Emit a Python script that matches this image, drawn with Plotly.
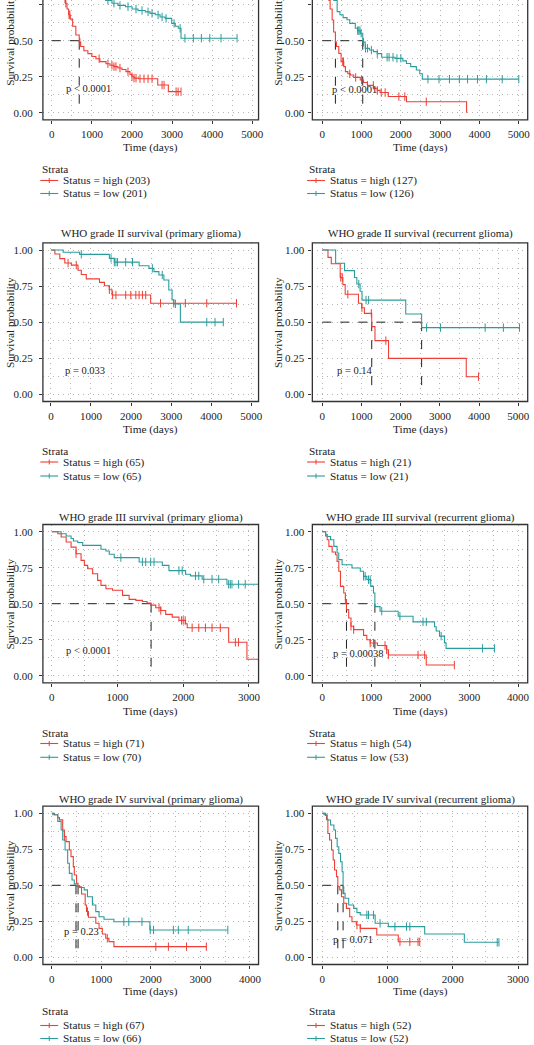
import plotly.graph_objects as go

W, H = 534, 1045
RED = "#EE3E36"
TEAL = "#2B9C9C"
FONT = "Liberation Serif"
INK = "#222222"
GRID = "#b4b4b4"
GDASH = "1px,4px"

# ---------------- data ----------------
titles = ["", "",
          "WHO grade II survival (primary glioma)", "WHO grade II survival (recurrent glioma)",
          "WHO grade III survival (primary glioma)", "WHO grade III survival (recurrent glioma)",
          "WHO grade IV survival (primary glioma)", "WHO grade IV survival (recurrent glioma)"]
pvals = ["p < 0.0001", "p < 0.0001", "p = 0.033", "p = 0.14",
         "p < 0.0001", "p = 0.00038", "p = 0.23", "p = 0.071"]
pval_t = [314, 194, 304, 314, 192, 170, 208, 127]
pval_s = [0.17, 0.158, 0.168, 0.164, 0.178, 0.151, 0.178, 0.127]
n_high = [203, 127, 65, 21, 71, 54, 67, 52]
n_low = [201, 126, 65, 21, 70, 53, 66, 52]
x_ticks_max = [5000, 5000, 5000, 5000, 3000, 4000, 4000, 3000]

# panel 1
p1_high_t = [0, 60, 120, 180, 240, 300, 340, 380, 420, 460, 520, 600, 684, 720, 800, 900, 1000, 1100, 1200, 1350, 1450, 1550, 1650, 1750, 1850, 1950, 2000, 2050, 2164, 2642, 2906]
p1_high_s = [1, 0.975, 0.94, 0.89, 0.84, 0.79, 0.76, 0.72, 0.68, 0.65, 0.6, 0.54, 0.49, 0.46, 0.43, 0.41, 0.39, 0.375, 0.355, 0.34, 0.33, 0.32, 0.31, 0.3, 0.285, 0.265, 0.25, 0.24, 0.236, 0.192, 0.146]
p1_high_c = [330, 350, 430, 450, 700, 1180, 1400, 1500, 1550, 1600, 1700, 1900, 2000, 2050, 2100, 2200, 2300, 2400, 2500, 2750, 2800, 3100, 3150, 3222]
p1_low_t = [0, 100, 250, 400, 600, 800, 1000, 1200, 1343, 1500, 1650, 1837, 2001, 2150, 2332, 2450, 2580, 2700, 2826, 2990, 3080, 3155, 3222]
p1_low_s = [1, 0.985, 0.965, 0.94, 0.91, 0.87, 0.835, 0.8, 0.78, 0.76, 0.745, 0.736, 0.72, 0.71, 0.70, 0.69, 0.68, 0.665, 0.655, 0.62, 0.60, 0.586, 0.517]
p1_low_c = [1400, 1550, 1700, 1900, 2100, 2250, 2400, 2500, 2650, 2750, 2850, 3050, 3200, 3320, 3530, 3730, 3940, 4220, 4620]
p1_medians = [684]

# panel 2
p2_high_t = [0, 40, 80, 120, 169, 200, 252, 290, 335, 360, 421, 479, 547, 589, 650, 715, 800, 967, 1050, 1150, 1303, 1400, 1471, 1680, 2142, 3672]
p2_high_s = [1, 0.96, 0.91, 0.85, 0.78, 0.72, 0.644, 0.56, 0.49, 0.46, 0.412, 0.354, 0.32, 0.285, 0.27, 0.262, 0.245, 0.227, 0.21, 0.19, 0.17, 0.155, 0.14, 0.112, 0.076, 0.0]
p2_high_c = [520, 540, 700, 850, 1000, 1150, 1300, 1400, 1500, 1600, 1950, 2100, 2646]
p2_low_t = [0, 50, 100, 150, 200, 250, 295, 379, 450, 530, 630, 700, 841, 900, 967, 1030, 1093, 1200, 1303, 1400, 1512, 1850, 2050, 2142, 2250, 2394, 2480, 2545]
p2_low_s = [1, 0.97, 0.94, 0.9, 0.86, 0.82, 0.78, 0.702, 0.68, 0.66, 0.645, 0.62, 0.586, 0.57, 0.552, 0.49, 0.447, 0.435, 0.424, 0.41, 0.385, 0.377, 0.36, 0.342, 0.32, 0.296, 0.27, 0.233]
p2_low_c = [900, 930, 960, 990, 1050, 1100, 1150, 1250, 1400, 1650, 1700, 1800, 1900, 2000, 2689, 2970, 3236, 3488, 3697, 3949, 4176, 4579, 5000]
p2_medians = [335, 1030]

# panel 3
p3_high_t = [0, 99, 222, 346, 511, 675, 758, 882, 1212, 1335, 1458, 1524, 2488]
p3_high_s = [1, 0.972, 0.94, 0.91, 0.895, 0.86, 0.83, 0.80, 0.776, 0.752, 0.725, 0.688, 0.631]
p3_high_c = [428, 632, 1458, 1540, 1622, 1865, 1993, 2118, 2200, 2283, 2365, 2735, 3065, 3353, 3888, 4630]
p3_low_t = [0, 304, 717, 1458, 1582, 2200, 2447, 2570, 2694, 2818, 2941, 3023, 3065, 3230]
p3_low_s = [1, 0.984, 0.97, 0.942, 0.916, 0.891, 0.873, 0.85, 0.827, 0.792, 0.723, 0.654, 0.627, 0.5]
p3_low_c = [758, 1500, 1582, 1622, 1663, 1865, 2035, 2530, 2777, 3106, 3888, 4094, 4300]
p3_medians = []

# panel 4
p4_high_t = [0, 144, 228, 456, 524, 583, 922, 1004, 1073, 1260, 1343, 1689, 3672]
p4_high_s = [1, 0.949, 0.905, 0.81, 0.76, 0.693, 0.631, 0.60, 0.561, 0.469, 0.372, 0.249, 0.122]
p4_high_c = [470, 510, 650, 1010, 1250, 1620, 3986]
p4_low_t = [0, 339, 567, 820, 880, 963, 1013, 2128, 2533]
p4_low_s = [1, 0.908, 0.857, 0.81, 0.764, 0.714, 0.653, 0.556, 0.462]
p4_low_c = [930, 1115, 1182, 2660, 3014, 4154, 4619, 5030]
p4_medians = [1260, 2533]

# panel 5
p5_high_t = [0, 91, 142, 218, 293, 369, 445, 495, 545, 621, 697, 748, 824, 924, 1076, 1177, 1279, 1379, 1450, 1511, 1582, 1658, 1733, 1833, 1935, 2036, 2061, 2692, 2970]
p5_high_s = [1, 0.986, 0.963, 0.928, 0.893, 0.847, 0.801, 0.766, 0.743, 0.708, 0.662, 0.627, 0.604, 0.593, 0.558, 0.53, 0.523, 0.515, 0.505, 0.49, 0.472, 0.453, 0.426, 0.407, 0.384, 0.361, 0.333, 0.232, 0.114]
p5_high_c = [369, 1632, 1658, 1975, 2000, 2030, 2136, 2237, 2338, 2439, 2565, 2794, 2843, 3160]
p5_low_t = [0, 142, 218, 293, 329, 394, 470, 748, 823, 874, 950, 1329, 1682, 1783, 2036, 2112, 2288, 2666]
p5_low_s = [1, 0.986, 0.97, 0.953, 0.935, 0.925, 0.905, 0.878, 0.866, 0.843, 0.82, 0.79, 0.766, 0.73, 0.704, 0.693, 0.67, 0.635]
p5_low_c = [1051, 1379, 1429, 1505, 1556, 1935, 1985, 2187, 2237, 2313, 2439, 2540, 2692, 2717, 2742, 2843, 2944, 3160]
p5_medians = [1511]

# panel 6
p6_high_t = [0, 69, 101, 136, 202, 271, 303, 338, 372, 439, 473, 495, 540, 587, 641, 844, 910, 979, 1127, 1315, 1350, 2124]
p6_high_s = [1, 0.97, 0.944, 0.898, 0.859, 0.84, 0.794, 0.725, 0.62, 0.574, 0.528, 0.459, 0.401, 0.343, 0.32, 0.28, 0.25, 0.227, 0.21, 0.18, 0.144, 0.074]
p6_high_c = [473, 587, 641, 979, 1046, 1282, 1315, 1350, 1956, 2091, 2698]
p6_low_t = [0, 69, 101, 170, 237, 303, 337, 405, 607, 777, 844, 911, 991, 1046, 1075, 1181, 1551, 1855, 2294, 2327, 2395, 2496, 2529]
p6_low_s = [1, 0.98, 0.967, 0.944, 0.898, 0.852, 0.806, 0.771, 0.748, 0.725, 0.69, 0.667, 0.62, 0.574, 0.48, 0.448, 0.413, 0.374, 0.34, 0.31, 0.275, 0.228, 0.19]
p6_low_c = [844, 877, 945, 979, 1215, 1586, 2058, 2125, 2428, 3271, 3520]
p6_medians = [495, 1075]

# panel 7
p7_high_t = [0, 54, 120, 154, 220, 254, 288, 354, 388, 434, 454, 500, 530, 600, 674, 700, 740, 888, 954, 1020, 1088, 1154, 1254]
p7_high_s = [1, 0.99, 0.97, 0.954, 0.884, 0.838, 0.803, 0.745, 0.699, 0.63, 0.572, 0.514, 0.49, 0.44, 0.363, 0.318, 0.278, 0.236, 0.201, 0.162, 0.132, 0.109, 0.074]
p7_high_c = [254, 720, 1121, 2100, 2354, 2720, 3120]
p7_low_t = [0, 20, 120, 188, 220, 268, 320, 354, 408, 454, 488, 560, 654, 720, 820, 888, 954, 1054, 1254, 1980]
p7_low_s = [1, 0.99, 0.944, 0.884, 0.815, 0.745, 0.653, 0.583, 0.537, 0.51, 0.498, 0.485, 0.468, 0.421, 0.363, 0.317, 0.282, 0.264, 0.247, 0.19]
p7_low_c = [1454, 1554, 1820, 1987, 2054, 2454, 2554, 2754, 3554]
p7_medians = [488, 530]

# panel 8
p8_high_t = [0, 51, 66, 86, 112, 142, 167, 188, 218, 238, 268, 294, 329, 370, 420, 455, 522, 582, 835, 1164]
p8_high_s = [1, 0.985, 0.958, 0.86, 0.815, 0.745, 0.676, 0.606, 0.56, 0.49, 0.468, 0.421, 0.375, 0.34, 0.282, 0.247, 0.224, 0.201, 0.155, 0.108]
p8_high_c = [531, 582, 1190, 1341, 1467, 1493]
p8_low_t = [0, 26, 76, 127, 178, 203, 228, 253, 279, 304, 319, 329, 349, 405, 481, 531, 582, 810, 1012, 1569, 2176]
p8_low_s = [1, 0.99, 0.953, 0.919, 0.884, 0.826, 0.768, 0.722, 0.664, 0.594, 0.49, 0.444, 0.41, 0.363, 0.34, 0.31, 0.294, 0.236, 0.213, 0.162, 0.104]
p8_low_c = [683, 708, 784, 885, 1113, 1290, 1341, 2680, 2706]
p8_medians = [238, 319]

panels = [
    (p1_high_t, p1_high_s, p1_high_c, p1_low_t, p1_low_s, p1_low_c, p1_medians),
    (p2_high_t, p2_high_s, p2_high_c, p2_low_t, p2_low_s, p2_low_c, p2_medians),
    (p3_high_t, p3_high_s, p3_high_c, p3_low_t, p3_low_s, p3_low_c, p3_medians),
    (p4_high_t, p4_high_s, p4_high_c, p4_low_t, p4_low_s, p4_low_c, p4_medians),
    (p5_high_t, p5_high_s, p5_high_c, p5_low_t, p5_low_s, p5_low_c, p5_medians),
    (p6_high_t, p6_high_s, p6_high_c, p6_low_t, p6_low_s, p6_low_c, p6_medians),
    (p7_high_t, p7_high_s, p7_high_c, p7_low_t, p7_low_s, p7_low_c, p7_medians),
    (p8_high_t, p8_high_s, p8_high_c, p8_low_t, p8_low_s, p8_low_c, p8_medians),
]

# ---------------- layout geometry (pixels) ----------------
col_l = [43.3, 315.3]
col_r = [261.0, 532.7]
row_top = [0.0, 242.8, 524.5, 806.1]
row_frame_top = [-40.0, 242.8, 524.5, 806.1]
row_bot = [119.9, 401.5, 682.9, 964.5]
y_ranges = [[-0.05, 0.7826], [-0.05, 1.05], [-0.05, 1.05], [-0.05, 1.05]]
x_ranges = [(-222, 5156), (-252, 5227), (-200, 5180), (-255, 5240),
            (-136, 3147), (-202, 4196), (-180, 4174), (-152, 3147)]
title_y = [None, 234, 517, 799]
xlab_y = [147, 429.3, 711, 991.7]
strata_y = [169, 450.7, 732.7, 1010.7]
high_y = [180.5, 462, 743.5, 1025.5]
low_y = [193.5, 476, 757.3, 1038.5]
ylab_x = [10, 280.5]
leg_x = [40.7, 310]

F_TICK, F_TITLE, F_AXT, F_LEG, F_P = 11, 11, 11.3, 11.3, 10.5


def px(x):
    return x / W


def py(y):
    return 1 - y / H


def step_at(ts, ss, c):
    v = ss[0]
    for t, s in zip(ts, ss):
        if t <= c:
            v = s
    return v


fig = go.Figure()
annotations = []
shapes = []

for i, (ht, hs, hc, lt, ls, lc, meds) in enumerate(panels):
    r, c = divmod(i, 2)
    k = "" if i == 0 else str(i + 1)
    xref, yref = "x" + k, "y" + k

    # median dashed lines
    if meds:
        fig.add_trace(go.Scatter(x=[0, max(meds)], y=[0.5, 0.5], mode="lines",
                                 line=dict(color="#222", width=1, dash="dash"),
                                 xaxis=xref, yaxis=yref, showlegend=False, hoverinfo="skip"))
        for m in meds:
            fig.add_trace(go.Scatter(x=[m, m], y=[0.5, 0], mode="lines",
                                     line=dict(color="#222", width=1, dash="dash"),
                                     xaxis=xref, yaxis=yref, showlegend=False, hoverinfo="skip"))

    for ts, ss, cs, col in ((ht, hs, hc, RED), (lt, ls, lc, TEAL)):
        end = max([ts[-1]] + cs)
        fig.add_trace(go.Scatter(x=ts + [end], y=ss + [ss[-1]], mode="lines",
                                 line=dict(color=col, width=1.1, shape="hv"),
                                 xaxis=xref, yaxis=yref, showlegend=False))
        fig.add_trace(go.Scatter(x=cs, y=[step_at(ts, ss, cc) for cc in cs], mode="markers",
                                 marker=dict(symbol="line-ns", size=6,
                                             line=dict(color=col, width=1)),
                                 xaxis=xref, yaxis=yref, showlegend=False))

    # axes
    fig.layout["xaxis" + k] = dict(
        domain=[px(col_l[c]), px(col_r[c])], range=list(x_ranges[i]),
        anchor=yref, tickmode="array",
        tickvals=list(range(0, x_ticks_max[i] + 1, 1000)),
        ticks="outside", ticklen=3, tickwidth=1, tickcolor="#333",
        showline=False, zeroline=False, showgrid=True,
        gridcolor=GRID, griddash=GDASH, gridwidth=1,
        minor=dict(tickvals=list(range(500, int(x_ranges[i][1]), 1000)),
                   showgrid=True, gridcolor=GRID, griddash=GDASH, gridwidth=1, ticks=""),
        tickfont=dict(family=FONT, size=F_TICK, color=INK), ticklabelstandoff=1,
    )
    fig.layout["yaxis" + k] = dict(
        domain=[py(row_bot[r]), py(row_top[r])], range=y_ranges[r],
        anchor=xref, tickvals=[0, 0.25, 0.5, 0.75, 1.0], tickformat=".2f",
        ticks="outside", ticklen=3, tickwidth=1, tickcolor="#333",
        showline=False, zeroline=False, showgrid=True,
        gridcolor=GRID, griddash=GDASH, gridwidth=1,
        minor=dict(tickvals=[0.125, 0.375, 0.625, 0.875], showgrid=True,
                   gridcolor=GRID, griddash=GDASH, gridwidth=1, ticks=""),
        tickfont=dict(family=FONT, size=F_TICK, color=INK),
        ticklabelstandoff=(4 if c == 0 else 2),
    )

    # frame
    shapes.append(dict(type="rect", xref="paper", yref="paper",
                       x0=px(col_l[c]), x1=px(col_r[c]),
                       y0=py(row_bot[r]), y1=py(row_frame_top[r]),
                       line=dict(color="#333", width=1.3), fillcolor="rgba(0,0,0,0)"))

    # p-value
    annotations.append(dict(x=pval_t[i], y=pval_s[i], xref=xref, yref=yref, text=pvals[i],
                            showarrow=False, xanchor="left", yanchor="middle",
                            font=dict(family=FONT, size=F_P, color=INK)))

    xc = px((col_l[c] + col_r[c]) / 2)
    if titles[i] and title_y[r] is not None:
        annotations.append(dict(x=xc, y=py(title_y[r]), xref="paper", yref="paper",
                                text=titles[i], showarrow=False, xanchor="center", yanchor="middle",
                                font=dict(family=FONT, size=F_TITLE, color=INK)))
    annotations.append(dict(x=xc, y=py(xlab_y[r]), xref="paper", yref="paper", text="Time (days)",
                            showarrow=False, xanchor="center", yanchor="middle",
                            font=dict(family=FONT, size=F_AXT, color=INK)))
    annotations.append(dict(x=px(ylab_x[c]), y=py((row_frame_top[r] + row_bot[r]) / 2),
                            xref="paper", yref="paper", text="Survival probability",
                            textangle=-90, showarrow=False, xanchor="center", yanchor="middle",
                            font=dict(family=FONT, size=F_AXT, color=INK)))

    # legend (drawn)
    lx = leg_x[c]
    annotations.append(dict(x=px(lx), y=py(strata_y[r]), xref="paper", yref="paper", text="Strata",
                            showarrow=False, xanchor="left", yanchor="middle",
                            font=dict(family=FONT, size=F_LEG, color=INK)))
    for yy, col, lab in ((high_y[r], RED, "Status = high (%d)" % n_high[i]),
                         (low_y[r], TEAL, "Status = low (%d)" % n_low[i])):
        shapes.append(dict(type="line", xref="paper", yref="paper", x0=px(lx), x1=px(lx + 18),
                           y0=py(yy), y1=py(yy), line=dict(color=col, width=1.1)))
        shapes.append(dict(type="line", xref="paper", yref="paper", x0=px(lx + 9), x1=px(lx + 9),
                           y0=py(yy - 2.5), y1=py(yy + 2.5), line=dict(color=col, width=1)))
        annotations.append(dict(x=px(lx + 21), y=py(yy), xref="paper", yref="paper", text=lab,
                                showarrow=False, xanchor="left", yanchor="middle",
                                font=dict(family=FONT, size=F_LEG, color=INK)))

fig.update_layout(width=W, height=H, margin=dict(l=0, r=0, t=0, b=0),
                  paper_bgcolor="white", plot_bgcolor="white",
                  annotations=annotations, shapes=shapes, showlegend=False)
fig.write_html("out.html", config={"displayModeBar": False},
               post_script="document.body.style.margin='0';document.body.style.overflow='hidden';")
